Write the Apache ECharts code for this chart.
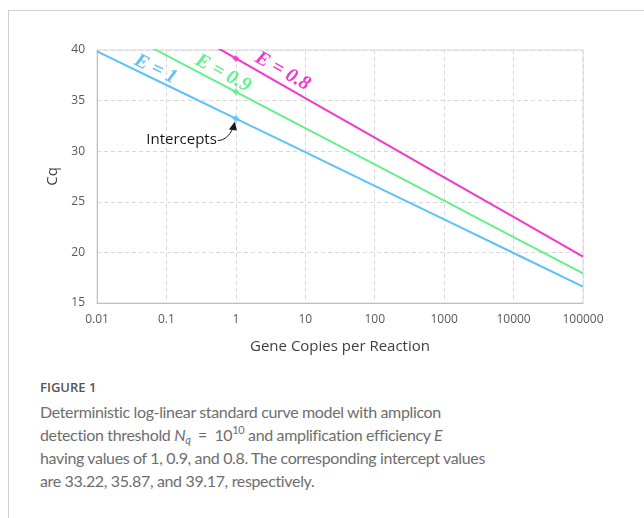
<!DOCTYPE html>
<html>
<head>
<meta charset="utf-8">
<script src="https://cdn.jsdelivr.net/npm/echarts@6/dist/echarts.min.js"></script>
<style>
  body { margin: 0; background: #fff; width: 644px; height: 518px; overflow: hidden; position: relative; }
  .frame { position: absolute; left: 8px; top: 10px; width: 700px; height: 600px; border: 1px solid #d0d0d0; }
  #chart { position: absolute; left: 0; top: 0; width: 644px; height: 360px; }
  .cap-title { position: absolute; left: 40px; top: 378px; font: 600 13px "Open Sans", sans-serif; color: #555; }
  .cap-text { position: absolute; left: 40px; top: 400px; font: 16px Lato, sans-serif; letter-spacing: -0.35px; line-height: 23px; color: #6e6e6e; white-space: nowrap; }
  .cap-text sub { font-size: 11px; vertical-align: -3px; line-height: 0; }
  .cap-text sup { font-size: 11px; vertical-align: 7px; line-height: 0; }
</style>
</head>
<body>
<div class="frame"></div>
<div id="chart"></div>
<div class="cap-title">FIGURE 1</div>
<div class="cap-text">Deterministic log-linear standard curve model with amplicon<br>detection threshold <i>N</i><sub><i>q</i></sub> &nbsp;=&nbsp; 10<sup>10</sup> and amplification efficiency <i>E</i><br>having values of 1, 0.9, and 0.8. The corresponding intercept values<br>are 33.22, 35.87, and 39.17, respectively.</div>
<script>
// gene copies per reaction (log scale)
var copies = [0.01, 0.1, 1, 10, 100, 1000, 10000, 100000]
// Cq at the decades
var cqE1 = [39.86, 36.54, 33.22, 29.90, 26.58, 23.26, 19.94, 16.61]
var cqE09 = [43.04, 39.46, 35.87, 32.28, 28.70, 25.11, 21.52, 17.93]
var cqE08 = [47.00, 43.09, 39.17, 35.25, 31.34, 27.42, 23.50, 19.59]
var intercepts = [33.22, 35.87, 39.17]
var lineNames = ['E = 1', 'E = 0.9', 'E = 0.8']
var lineColors = ['#5cc2f7', '#62f18c', '#f238c8']
// where each line label sits (data coords)
var labelAt = [[0.0697, 38.1], [0.654, 37.7], [4.71, 37.9]]
var yTicks = [15, 20, 25, 30, 35, 40]

var myChart = echarts.init(document.getElementById('chart'))

function pairs (ys) {
  return copies.map(function (x, i) { return [x, ys[i]] })
}

var allLines = [cqE1, cqE09, cqE08]
var series = allLines.map(function (ys, i) {
  return {
    name: lineNames[i],
    type: 'line',
    data: pairs(ys),
    showSymbol: false,
    clip: true,
    lineStyle: { color: lineColors[i], width: 2 },
    z: 3
  }
})
series.push({
  type: 'scatter',
  data: intercepts.map(function (v, i) {
    return { value: [1, v], itemStyle: { color: lineColors[i] } }
  }),
  symbol: 'diamond',
  symbolSize: 7,
  z: 4
})

function tickText (v) {
  return String(Number(v.toPrecision(6)))
}

myChart.setOption({
  animation: false,
  grid: { left: 97, right: 61, top: 50, bottom: 57, show: true, borderColor: '#d9d9d9', borderWidth: 1 },
  xAxis: {
    type: 'log',
    logBase: 10,
    min: 0.01,
    max: 100000,
    name: 'Gene Copies per Reaction',
    nameLocation: 'middle',
    nameGap: 36,
    nameTextStyle: { fontFamily: 'Open Sans', fontSize: 15, color: '#404040' },
    axisLine: { lineStyle: { color: '#bfbfbf' } },
    axisTick: { show: false },
    axisLabel: { formatter: tickText, fontFamily: 'Open Sans', fontSize: 12, color: '#595959', margin: 11 },
    splitLine: { show: true, lineStyle: { color: '#d9d9d9', type: [4, 3] } },
    minorTick: { show: false }
  },
  yAxis: {
    type: 'value',
    min: yTicks[0],
    max: yTicks[yTicks.length - 1],
    interval: 5,
    name: 'Cq',
    nameLocation: 'middle',
    nameGap: 33,
    nameTextStyle: { fontFamily: 'Open Sans', fontSize: 15, color: '#404040' },
    axisLine: { show: true, lineStyle: { color: '#bfbfbf' } },
    axisTick: { show: false },
    axisLabel: { fontFamily: 'Open Sans', fontSize: 12, color: '#595959', margin: 12 },
    splitLine: { show: true, lineStyle: { color: '#d9d9d9', type: [4, 3] } }
  },
  series: series
})

// annotations placed from data coords
var slopes = [-0.46, -0.49, -0.52]
var graphics = labelAt.map(function (p, i) {
  var px = myChart.convertToPixel({ gridIndex: 0 }, p)
  return {
    type: 'text',
    x: px[0],
    y: px[1],
    rotation: slopes[i],
    style: {
      text: lineNames[i],
      fill: lineColors[i],
      font: 'italic bold 20px "Liberation Serif"',
      align: 'center',
      verticalAlign: 'middle'
    },
    z: 10
  }
})
var ip = myChart.convertToPixel({ gridIndex: 0 }, [1, intercepts[0]])
graphics.push({
  type: 'text',
  x: ip[0] - 19,
  y: ip[1] + 21,
  style: { text: 'Intercepts', font: '15px "Open Sans"', fill: '#1a1a1a', align: 'right', verticalAlign: 'middle' },
  z: 10
})
graphics.push({
  type: 'bezierCurve',
  shape: { x1: ip[0] - 18, y1: ip[1] + 22, cpx1: ip[0] - 9, cpy1: ip[1] + 22, x2: ip[0] - 3, y2: ip[1] + 10 },
  style: { stroke: '#1a1a1a', lineWidth: 1, fill: null },
  z: 10
})
graphics.push({
  type: 'polygon',
  shape: { points: [[ip[0] - 1, ip[1] + 3], [ip[0] - 7, ip[1] + 11], [ip[0] + 1, ip[1] + 12]] },
  style: { fill: '#1a1a1a' },
  z: 10
})
myChart.setOption({ graphic: graphics })
</script>
</body>
</html>
